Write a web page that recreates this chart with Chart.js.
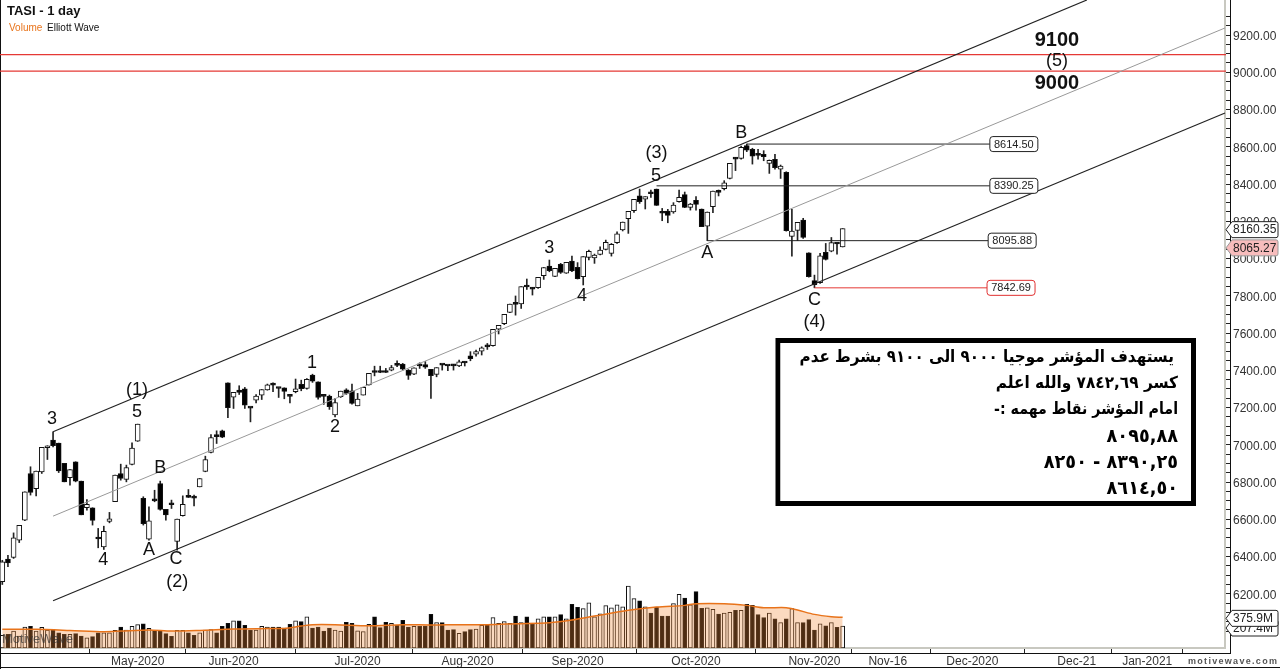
<!DOCTYPE html>
<html>
<head>
<meta charset="utf-8">
<title>TASI - 1 day</title>
<script src="https://cdn.jsdelivr.net/npm/chart.js@4/dist/chart.umd.min.js"></script>
<style>
  html, body { margin: 0; padding: 0; background: #fff; }
  canvas { display: block; }
</style>
</head>
<body>
<canvas id="chart" width="1280" height="669"></canvas>
<script>
// daily candles
const opens = [
  6265,6386,6395,6488,6595,6846,6765,6855,6984,7025,
  7009,6900,6823,6909,6805,6663,6662,6501,6452,6588,
  6694,6846,6814,6894,7020,6712,6493,6706,6792,6653,
  6681,6481,6619,6728,6717,6774,6857,6959,7055,7075,
  7333,7256,7294,7301,7200,7240,7267,7295,7324,7306,
  7306,7263,7285,7324,7302,7374,7338,7263,7261,7161,
  7258,7295,7290,7209,7267,7322,7392,7392,7399,7401,
  7430,7433,7401,7379,7428,7431,7405,7378,7432,7426,
  7428,7423,7442,7478,7487,7503,7530,7532,7621,7650,
  7711,7759,7756,7850,7840,7843,7908,7960,7904,7969,
  7922,7986,7953,7902,8006,8003,8022,8049,8028,8085,
  8153,8214,8257,8336,8319,8352,8373,8246,8255,8250,
  8305,8343,8275,8312,8266,8174,8278,8359,8375,8430,
  8538,8538,8606,8586,8559,8559,8511,8532,8480,8463,
  8119,8151,8207,8031,7881,7870,8033,8040,8081,8062
];
const highs = [
  6380,6407,6527,6567,6748,6882,6859,6986,6995,7070,
  7009,6900,6867,6909,6805,6706,6662,6551,6563,6637,
  6837,6896,6891,7011,7111,6721,6667,6756,6805,6653,
  6703,6601,6726,6760,6730,6819,6939,7055,7075,7079,
  7333,7281,7317,7308,7200,7270,7297,7326,7333,7306,
  7306,7263,7353,7347,7356,7379,7338,7263,7267,7249,
  7288,7301,7326,7276,7308,7383,7422,7422,7410,7426,
  7451,7437,7404,7413,7440,7447,7405,7414,7432,7426,
  7432,7455,7446,7500,7509,7526,7544,7620,7641,7700,
  7756,7799,7849,7890,7845,7899,7952,7992,7947,7974,
  7979,8013,7978,8010,8046,8024,8063,8099,8081,8144,
  8196,8253,8318,8373,8332,8368,8373,8269,8264,8300,
  8368,8357,8296,8332,8266,8250,8362,8368,8418,8511,
  8543,8604,8614.5,8592,8586,8579,8529,8559,8502,8466,
  8264,8194,8216,8031,7911,8028,8081,8113,8085,8160.35
];
const lows = [
  6250,6345,6390,6475,6593,6730,6726,6846,6921,6989,
  6851,6801,6783,6801,6624,6649,6569,6447,6438,6581,
  6694,6810,6801,6892,7018,6569,6488,6694,6649,6595,
  6658,6434,6617,6717,6672,6774,6855,6957,7007,7038,
  7145,7195,7270,7195,7123,7225,7243,7293,7285,7254,
  7247,7225,7279,7290,7299,7335,7245,7217,7190,7150,
  7254,7270,7218,7209,7267,7320,7370,7387,7388,7397,
  7419,7401,7351,7377,7410,7410,7249,7365,7401,7398,
  7401,7419,7423,7451,7476,7482,7512,7530,7595,7645,
  7709,7696,7732,7834,7804,7840,7888,7929,7902,7920,
  7920,7929,7890,7858,7992,7974,8019,8046,8013,8081,
  8148,8135,8248,8296,8266,8328,8285,8203,8192,8243,
  8303,8273,8260,8260,8171,8096,8246,8336,8368,8428,
  8472,8534,8574,8507,8534,8525,8457,8480,8430,8147,
  8013,8096,8108,7900,7843,7866,7992,8036,8024,8062
];
const closes = [
  6372,6366,6501,6567,6748,6744,6859,6986,6995,6995,
  6860,6801,6867,6805,6624,6681,6594,6494,6536,6603,
  6837,6819,6878,6982,7111,6577,6592,6699,6653,6624,
  6678,6601,6681,6717,6714,6819,6921,7039,7043,7041,
  7199,7281,7281,7213,7197,7261,7297,7322,7320,7302,
  7286,7260,7301,7301,7351,7342,7254,7260,7204,7227,
  7288,7276,7222,7245,7308,7383,7388,7388,7388,7415,
  7426,7406,7372,7413,7424,7417,7371,7414,7428,7423,
  7424,7446,7439,7462,7500,7521,7526,7620,7641,7700,
  7756,7754,7849,7847,7836,7899,7952,7935,7947,7926,
  7979,7933,7892,8010,8038,8019,8046,8087,8076,8132,
  8196,8253,8318,8305,8332,8348,8285,8243,8232,8287,
  8328,8275,8293,8291,8171,8250,8362,8355,8407,8511,
  8534,8597,8582,8550,8554,8547,8527,8488,8497,8149,
  8147,8194,8114,7902,7859,8015,7995,8085,8078,8160.35
];
// volume in millions
const volumes = [
  119,129,160,113,198,204,160,195,170,170,
  144,129,129,135,113,97,107,144,144,144,
  166,198,170,204,220,229,185,166,166,135,
  110,166,166,144,119,144,170,173,144,204,
  232,257,257,214,166,170,204,198,198,198,
  188,223,257,248,295,188,198,160,188,170,
  160,242,232,163,154,223,295,192,242,232,
  214,261,198,204,204,207,317,239,239,170,
  173,138,154,173,179,214,223,286,232,248,
  232,301,239,295,223,276,295,295,295,314,
  276,411,383,371,427,295,323,399,380,408,
  389,584,465,446,389,330,386,301,301,418,
  506,471,408,531,374,380,364,320,330,336,
  355,355,411,402,314,286,330,276,239,276,
  371,239,239,267,170,229,210,239,195,207.4
];
// volume average, read at a few bars
const volAvgBars = [0,6,12,18,21,26,30,35,41,47,50,53,55,59,65,71,76,81,86,91,97,101,105,111,116,121,123,128,132,135,139,141,144,147,149];
const volAvg = [176,176,166,154,160,170,160,166,179,185,185,207,220,220,210,220,217,220,220,229,239,264,301,355,386,402,418,418,402,380,380,358,317,295,289];

// x axis
const xTickBars = [24,41,63,82.5,102,123,144,157,172,190.5,203];
const xTickLabels = ['May-2020','Jun-2020','Jul-2020','Aug-2020','Sep-2020','Oct-2020','Nov-2020','Nov-16','Dec-2020','Dec-21','Jan-2021'];

// channel, [bar, price]
const channelTop = [[9,7070],[192.3,9388]];
const channelMid = [[9,6617],[216.8,9238]];
const channelBottom = [[9,6163],[216.8,8781]];

// target lines right across the chart, as they sit in the picture
const targets = [9095,9006];

// levels with a value box on the right
const levelPrices = [8614.50,8390.25,8095.88,7842.69];
const levelStart = [132,116,125,144];
const levelEnd = [175.1,175.1,174.8,174.6];

// wave labels [text, bar, price]
const waveLabels = [
  ['(1)',23.9,7294],['5',23.9,7176],['3',8.8,7138],['B',28,6875],['A',26,6435],
  ['C',30.8,6387],['(2)',31,6263],['4',17.9,6381],['1',54.9,7439],['2',59,7095],
  ['3',97,8056],['4',102.8,7799],['5',115.9,8443],['(3)',116,8566],['A',125,8030],
  ['B',131,8674],['C',144,7777],['(4)',144,7659]
];
const targetLabels = [['9100',187,9168,true],['(5)',187,9060,false],['9000',187,8942,true]];

const noteLines = [
  'يستهدف المؤشر موجيا ٩٠٠٠ الى ٩١٠٠ بشرط عدم',
  'كسر ٧٨٤٢,٦٩ والله اعلم',
  'امام المؤشر نقاط مهمه :-',
  '٨٠٩٥,٨٨',
  '٨٣٩٠,٢٥ - ٨٢٥٠',
  '٨٦١٤,٥٠'
];

const FONT = '"Liberation Sans", Arial, sans-serif';
const bars = opens.map((o, i) => i);
const isDown = i => closes[i] < opens[i];

function line(points, color, width) {
  return {
    type: 'line', order: 1, yAxisID: 'y',
    data: points.map(p => ({ x: p[0], y: p[1] })),
    borderColor: color, borderWidth: width, pointRadius: 0, tension: 0
  };
}

function pill(ctx, y, text, fill, stroke) {
  ctx.beginPath();
  ctx.moveTo(1226, y);
  ctx.lineTo(1232, y - 8);
  ctx.lineTo(1276, y - 8);
  ctx.quadraticCurveTo(1278, y - 8, 1278, y - 6);
  ctx.lineTo(1278, y + 6);
  ctx.quadraticCurveTo(1278, y + 8, 1276, y + 8);
  ctx.lineTo(1232, y + 8);
  ctx.closePath();
  ctx.fillStyle = fill;
  ctx.fill();
  ctx.strokeStyle = stroke;
  ctx.lineWidth = 1;
  ctx.stroke();
  ctx.fillStyle = '#222';
  ctx.font = '12px ' + FONT;
  ctx.textAlign = 'left';
  ctx.textBaseline = 'middle';
  ctx.fillText(text, 1233, y + 0.5);
}

const frame = {
  id: 'frame',
  beforeDatasetsDraw(chart) {
    const { ctx, chartArea: a } = chart;
    ctx.save();
    ctx.fillStyle = '#c8c8c0';
    ctx.fillRect(a.right - 2, 0, 2, a.bottom);
    ctx.fillRect(0, a.bottom - 1, a.right, 2);
    ctx.fillStyle = '#111';
    ctx.fillRect(a.right + 4, 0, 1, a.bottom + 5);
    ctx.fillRect(0, a.bottom + 5, a.right + 5, 1);
    ctx.fillRect(0, 0, 1, 669);
    ctx.fillRect(0, 667, 1280, 1);
    ctx.restore();
  },
  afterDatasetsDraw(chart) {
    const { ctx, scales: { x, y } } = chart;
    ctx.save();
    ctx.fillStyle = 'rgba(50,50,50,0.7)';
    ctx.font = '13px ' + FONT;
    ctx.textAlign = 'left';
    ctx.textBaseline = 'middle';
    ctx.fillText('MotiveWave', 2, 639);
    ctx.textAlign = 'center';
    ctx.fillStyle = '#111';
    waveLabels.forEach(l => {
      ctx.font = '18px ' + FONT;
      ctx.fillText(l[0], x.getPixelForValue(l[1]), y.getPixelForValue(l[2]));
    });
    targetLabels.forEach(l => {
      ctx.font = (l[3] ? 'bold 20px ' : '18px ') + FONT;
      ctx.fillText(l[0], x.getPixelForValue(l[1]), y.getPixelForValue(l[2]));
    });
    // value boxes at the end of each level
    levelPrices.forEach((p, i) => {
      const left = x.getPixelForValue(levelEnd[i]);
      const py = y.getPixelForValue(p);
      const red = i === 3;
      ctx.beginPath();
      ctx.roundRect(left, py - 7.5, 48, 15, 3);
      ctx.fillStyle = '#fff';
      ctx.fill();
      ctx.strokeStyle = red ? '#e03030' : '#222';
      ctx.lineWidth = 1;
      ctx.stroke();
      ctx.fillStyle = '#222';
      ctx.font = '11px ' + FONT;
      ctx.fillText(p.toFixed(2), left + 24, py + 0.5);
    });
    // note box
    ctx.strokeStyle = '#000';
    ctx.lineWidth = 5;
    ctx.strokeRect(778, 340.5, 415.5, 163);
    ctx.fillStyle = '#fff';
    ctx.fillRect(780.5, 343, 410.5, 158);
    ctx.fillStyle = '#000';
    ctx.direction = 'rtl';
    ctx.textAlign = 'right';
    const noteY = [358, 384, 410, 437, 463, 489];
    const noteSize = [16.5, 16.5, 16.5, 19, 19, 19];
    const noteSquash = [0.92, 0.93, 0.86, 0.93, 0.93, 0.93];
    // DejaVu runs wider than the original face
    noteLines.forEach((t, i) => {
      ctx.save();
      ctx.font = 'bold ' + noteSize[i] + 'px "DejaVu Sans", sans-serif';
      ctx.translate(i === 0 ? 1174 : 1178, noteY[i]);
      ctx.scale(noteSquash[i], 1);
      ctx.fillText(t, 0, 0);
      ctx.restore();
    });
    ctx.restore();
  },
  afterDraw(chart) {
    const { ctx, scales: { y, v } } = chart;
    ctx.save();
    ctx.fillStyle = '#111';
    ctx.textAlign = 'left';
    ctx.textBaseline = 'middle';
    ctx.font = 'bold 13px ' + FONT;
    ctx.fillText('TASI - 1 day', 7, 11);
    ctx.font = '10px ' + FONT;
    ctx.fillStyle = '#e8731a';
    ctx.fillText('Volume', 9, 28);
    ctx.fillStyle = '#111';
    ctx.fillText('Elliott Wave', 47, 28);
    pill(ctx, v.getPixelForValue(volumes[149]) + 2, '207.4M', '#fff', '#222');
    pill(ctx, v.getPixelForValue(volAvg[volAvg.length - 1]) + 1, '375.9M', '#fff', '#222');
    pill(ctx, y.getPixelForValue(closes[149]) + 1, '8160.35', '#fff', '#222');
    pill(ctx, y.getPixelForValue(8065.27) + 1.5, '8065.27', '#f7bcbc', '#999');
    ctx.fillStyle = '#555';
    ctx.font = 'bold 9px ' + FONT;
    ctx.letterSpacing = '1.3px';
    ctx.fillText('motivewave.com', 1188, 662);
    ctx.restore();
  }
};

new Chart(document.getElementById('chart'), {
  type: 'bar',
  data: {
    datasets: [
      // wicks and bodies drop over each other, so grouped is off
      {
        order: 3, yAxisID: 'y', grouped: false, barThickness: 1,
        data: bars.map(i => ({ x: i, y: [lows[i], highs[i]] })),
        backgroundColor: '#222'
      },
      {
        order: 2, yAxisID: 'y', grouped: false, barThickness: 5, minBarLength: 2,
        data: bars.map(i => ({ x: i, y: [Math.min(opens[i], closes[i]), Math.max(opens[i], closes[i])] })),
        backgroundColor: bars.map(i => isDown(i) ? '#000' : '#fff'),
        borderColor: '#111', borderWidth: 1, borderSkipped: false
      },
      {
        order: 5, yAxisID: 'v', grouped: false, barThickness: 4,
        data: bars.map(i => ({ x: i, y: volumes[i] })),
        backgroundColor: bars.map(i => isDown(i) ? '#000' : '#fff'),
        borderColor: '#111', borderWidth: 1, borderSkipped: false
      },
      {
        type: 'line', order: 4, yAxisID: 'v',
        data: volAvgBars.map((b, i) => ({ x: b, y: volAvg[i] })),
        borderColor: '#e8731a', borderWidth: 1.5, pointRadius: 0, tension: 0.3,
        fill: 'origin', backgroundColor: 'rgba(243,140,60,0.32)'
      },
      line(channelTop, '#222', 1.2),
      line(channelMid, '#999', 1),
      line(channelBottom, '#222', 1.2),
      ...targets.map(t => line([[-1, t], [217, t]], '#e53935', 1.2)),
      ...levelPrices.map((p, i) => line([[levelStart[i], p], [levelEnd[i], p]], i === 3 ? '#e53935' : '#222', 1))
    ]
  },
  options: {
    responsive: false,
    animation: false,
    layout: { padding: 0 },
    plugins: { legend: { display: false }, tooltip: { enabled: false } },
    scales: {
      x: {
        type: 'linear', min: -0.408, max: 216.97, offset: false,
        border: { display: false },
        grid: { drawOnChartArea: false, tickLength: 5, tickColor: '#222' },
        afterBuildTicks: s => { s.ticks = xTickBars.map(b => ({ value: b })); },
        afterFit: s => { s.height = 21; s.paddingLeft = 0; s.paddingRight = 0; },
        ticks: {
          autoSkip: false, maxRotation: 0, padding: 1, color: '#333',
          font: { family: FONT, size: 12 },
          callback: (value, i) => xTickLabels[i]
        }
      },
      y: {
        position: 'right', min: 5909, max: 9388,
        border: { display: false },
        grid: { drawOnChartArea: false, tickLength: 5, tickColor: '#222' },
        afterBuildTicks: s => { s.ticks = s.ticks.filter(t => t.value % 50 === 0); },
        afterFit: s => { s.width = 54; s.paddingTop = 0; s.paddingBottom = 0; },
        ticks: {
          stepSize: 50, autoSkip: false, padding: 2, labelOffset: 1.5, color: '#333',
          font: { family: FONT, size: 12 },
          callback: value => value % 200 === 0 ? value.toFixed(2) : ''
        }
      },
      v: { display: false, min: 0, max: 6111 }
    }
  },
  plugins: [frame]
});
</script>
</body>
</html>
